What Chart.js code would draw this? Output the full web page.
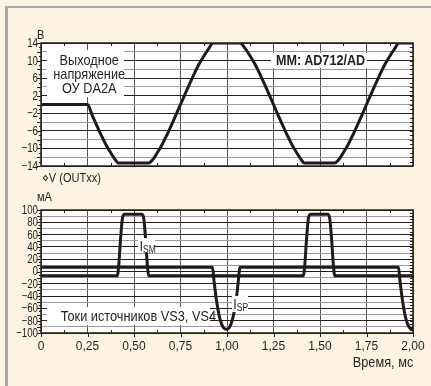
<!DOCTYPE html>
<html>
<head>
<meta charset="utf-8">
<script src="https://cdn.jsdelivr.net/npm/chart.js@4"></script>
<style>
html, body { margin: 0; padding: 0; }
body { width: 431px; height: 386px; background: #fcf3e0; position: relative; overflow: hidden;
  font-family: "Liberation Sans", Arial, sans-serif; color: #231f20; }
#frame { position: absolute; left: 5px; top: 6px; right: 0; bottom: 0; border-left: 3px solid #a9a9a9; border-top: 2px solid #a9a9a9; }
canvas { position: absolute; left: 0; }
#voltChart { top: 0; }
#currChart { top: 180px; }
.t { position: absolute; white-space: nowrap; }
.box { position: absolute; background: #fff; text-align: center; white-space: nowrap; }
.sq { display: inline-block; transform: scaleX(0.85); transform-origin: left center; }
.box .sq { transform-origin: center center; }
.r .sq { transform-origin: right center; }
sub { font-size: 10px; vertical-align: -2px; line-height: 0; }
</style>
</head>
<body>
<div id="frame"></div>
<canvas id="voltChart" width="431" height="176"></canvas>
<canvas id="currChart" width="431" height="206"></canvas>

<div class="t" style="left:37px;top:27px;font-size:13px;"><span class="sq">В</span></div>
<div class="t" style="left:42px;top:170px;font-size:13px;"><span class="sq">⋄V (OUTxx)</span></div>
<div class="t" style="left:37px;top:189px;font-size:13px;"><span class="sq">мА</span></div>
<div class="t r" style="right:18px;top:353px;font-size:15px;"><span class="sq">Время, мс</span></div>

<div class="box" style="left:47px;top:50px;width:77px;height:47px;font-size:15px;line-height:14px;padding-top:3px;box-sizing:border-box;"><span class="sq">Выходное<br>напряжение<br>ОУ DA2A</span></div>
<div class="box" style="left:271px;top:53px;width:96px;height:15px;font-size:14px;line-height:15px;font-weight:bold;"><span class="sq" style="transform:scaleX(0.9);">MM: AD712/AD</span></div>
<div class="box" style="left:47px;top:307px;width:163px;height:18px;font-size:15px;line-height:18px;"><span class="sq">Токи источников VS3, VS4</span></div>
<div class="box" style="left:138px;top:238px;width:17px;height:15px;font-size:15px;line-height:15px;"><span class="sq">I<sub>SM</sub></span></div>
<div class="box" style="left:232px;top:296px;width:16px;height:16px;font-size:15px;line-height:16px;"><span class="sq">I<sub>SP</sub></span></div>

<script>
// Output voltage of DA2A, V
var timeV = [0, 0.25, 0.275, 0.3, 0.325, 0.35, 0.375, 0.4, 0.415, 0.58, 0.6, 0.625, 0.65, 0.675, 0.7, 0.725,
    0.75, 0.775, 0.8, 0.825, 0.85, 0.875, 0.9, 0.925, 1.07, 1.1, 1.125, 1.15, 1.175, 1.2, 1.225,
    1.25, 1.275, 1.3, 1.325, 1.35, 1.375, 1.4, 1.415, 1.58, 1.6, 1.625, 1.65, 1.675, 1.7, 1.725,
    1.75, 1.775, 1.8, 1.825, 1.85, 1.875, 1.9, 1.925, 2.0];
var voltage = [0, 0, -2.4, -4.8, -7.1, -9.2, -11.0, -12.6, -13.3, -13.3, -12.6, -11.0, -9.2, -7.1, -4.8, -2.4,
    0, 2.4, 4.8, 7.1, 9.2, 11.0, 12.6, 14, 14, 12.6, 11.0, 9.2, 7.1, 4.8, 2.4,
    0, -2.4, -4.8, -7.1, -9.2, -11.0, -12.6, -13.3, -13.3, -12.6, -11.0, -9.2, -7.1, -4.8, -2.4,
    0, 2.4, 4.8, 7.1, 9.2, 11.0, 12.6, 14, 14];

// Source currents, mA
var timeSM = [0, 0.41, 0.418, 0.427, 0.437, 0.448, 0.543, 0.553, 0.563, 0.572, 0.58,
    1.41, 1.418, 1.427, 1.437, 1.448, 1.543, 1.553, 1.563, 1.572, 1.58, 2.0];
var currentSM = [-7, -7, 10, 50, 85, 93, 93, 85, 50, 10, -7,
    -7, 10, 50, 85, 93, 93, 85, 50, 10, -7, -7];
var timeSP = [0, 0.922, 0.93, 0.945, 0.962, 0.98, 1.0, 1.015, 1.03, 1.048, 1.06, 1.07,
    1.922, 1.93, 1.945, 1.962, 1.98, 2.0];
var currentSP = [7, 7, -15, -50, -77, -91, -94, -90, -77, -50, -18, 7,
    7, -15, -50, -77, -91, -94];

var xTickLabels = ['0', '0,25', '0,50', '0,75', '1,00', '1,25', '1,50', '1,75', '2,00'];
var voltTicks = [14, 10, 6, 2, -2, -6, -10, -14];
var currTicks = [100, 80, 60, 40, 20, 0, -20, -40, -60, -80, -100];

(function () {
    var INK = '#231f20';
    var FONT = '"Liberation Sans", Arial, sans-serif';
    Chart.defaults.font.family = FONT;
    Chart.defaults.font.size = 12;
    Chart.defaults.color = INK;

    function fmt(v) { return v < 0 ? '\u2212' + (-v) : String(v); }

    // white plot area, frame, edge ticks and narrow y labels
    var frameTicks = {
        id: 'frameTicks',
        beforeDraw: function (chart) {
            var a = chart.chartArea, ctx = chart.ctx;
            ctx.save();
            ctx.fillStyle = '#fff';
            ctx.fillRect(a.left, a.top, a.right - a.left, a.bottom - a.top);
            ctx.restore();
        },
        afterDraw: function (chart, args, o) {
            var ctx = chart.ctx, a = chart.chartArea, xs = chart.scales.x, ys = chart.scales.y;
            ctx.save();
            ctx.strokeStyle = INK;
            ctx.lineWidth = 1;
            ctx.beginPath();
            for (var v = ys.min; v <= ys.max + 1e-9; v += o.yMinor) {
                var py = Math.round(ys.getPixelForValue(v)) + 0.5;
                var len = (Math.round(v) % o.yGrid === 0) ? 4 : 2;
                ctx.moveTo(a.left - len, py); ctx.lineTo(a.left, py);
                ctx.moveTo(a.right - 3, py); ctx.lineTo(a.right, py);
            }
            for (var t = 0.125; t < 2; t += 0.25) {
                var px = Math.round(xs.getPixelForValue(t)) + 0.5;
                ctx.moveTo(px, a.top); ctx.lineTo(px, a.top + 3);
                ctx.moveTo(px, a.bottom); ctx.lineTo(px, a.bottom - 3);
            }
            if (o.bottomOut) {
                for (var k = 0; k <= 2; k += 0.25) {
                    var qx = Math.round(xs.getPixelForValue(k)) + 0.5;
                    ctx.moveTo(qx, a.bottom); ctx.lineTo(qx, a.bottom + 4);
                }
            }
            ctx.stroke();
            ctx.lineWidth = 1.5;
            ctx.strokeRect(a.left, a.top, a.right - a.left, a.bottom - a.top);

            // y tick labels, horizontally condensed like the original typeface
            ctx.fillStyle = INK;
            ctx.font = '12.5px ' + FONT;
            ctx.textAlign = 'right';
            ctx.textBaseline = 'middle';
            o.labels.forEach(function (val) {
                ctx.save();
                ctx.translate(a.left - 3, ys.getPixelForValue(val) + 0.5);
                ctx.scale(0.78, 1);
                ctx.fillText(fmt(val), 0, 0);
                ctx.restore();
            });
            ctx.restore();
        }
    };

    function points(xs, ys) {
        return xs.map(function (x, i) { return { x: x, y: ys[i] }; });
    }

    function curve(xs, ys) {
        return {
            data: points(xs, ys),
            borderColor: '#1d1b1c',
            borderWidth: 3,
            pointRadius: 0,
            fill: false,
            cubicInterpolationMode: 'monotone'
        };
    }

    function xScale(showLabels) {
        return {
            type: 'linear', min: 0, max: 2,
            grid: { color: '#555', lineWidth: 1, drawTicks: false },
            border: { display: false },
            ticks: {
                stepSize: 0.25, autoSkip: false, maxRotation: 0, display: showLabels, padding: 6,
                callback: function (v, i) { return xTickLabels[i]; }
            },
            afterFit: function (s) { s.height = showLabels ? 53 : 0; }
        };
    }

    function yScale(min, max, step, labels, gridEvery) {
        return {
            min: min, max: max,
            grid: {
                drawTicks: false,
                color: function (c) {
                    var v = c.tick.value;
                    if (labels.indexOf(v) >= 0) return INK;
                    if (Math.round(v) % gridEvery === 0) return '#9c9c9c';
                    return 'rgba(0,0,0,0)';
                }
            },
            border: { display: false },
            ticks: { stepSize: step, autoSkip: false, display: false },
            afterFit: function (s) { s.width = 41; }
        };
    }

    new Chart(document.getElementById('voltChart').getContext('2d'), {
        type: 'line',
        data: { datasets: [curve(timeV, voltage)] },
        options: {
            responsive: false, animation: false, devicePixelRatio: 1,
            layout: { padding: { top: 43, right: 18, bottom: 10, left: 0 } },
            scales: { x: xScale(false), y: yScale(-14, 14, 1, voltTicks, 2) },
            plugins: { legend: { display: false }, tooltip: { enabled: false },
                frameTicks: { yMinor: 1, yGrid: 2, bottomOut: false, labels: voltTicks } }
        },
        plugins: [frameTicks]
    });

    new Chart(document.getElementById('currChart').getContext('2d'), {
        type: 'line',
        data: { datasets: [curve(timeSM, currentSM), curve(timeSP, currentSP)] },
        options: {
            responsive: false, animation: false, devicePixelRatio: 1,
            layout: { padding: { top: 30, right: 18, bottom: 0, left: 0 } },
            scales: { x: xScale(true), y: yScale(-100, 100, 5, currTicks, 10) },
            plugins: { legend: { display: false }, tooltip: { enabled: false },
                frameTicks: { yMinor: 5, yGrid: 10, bottomOut: true, labels: currTicks } }
        },
        plugins: [frameTicks]
    });
})();
</script>
</body>
</html>
